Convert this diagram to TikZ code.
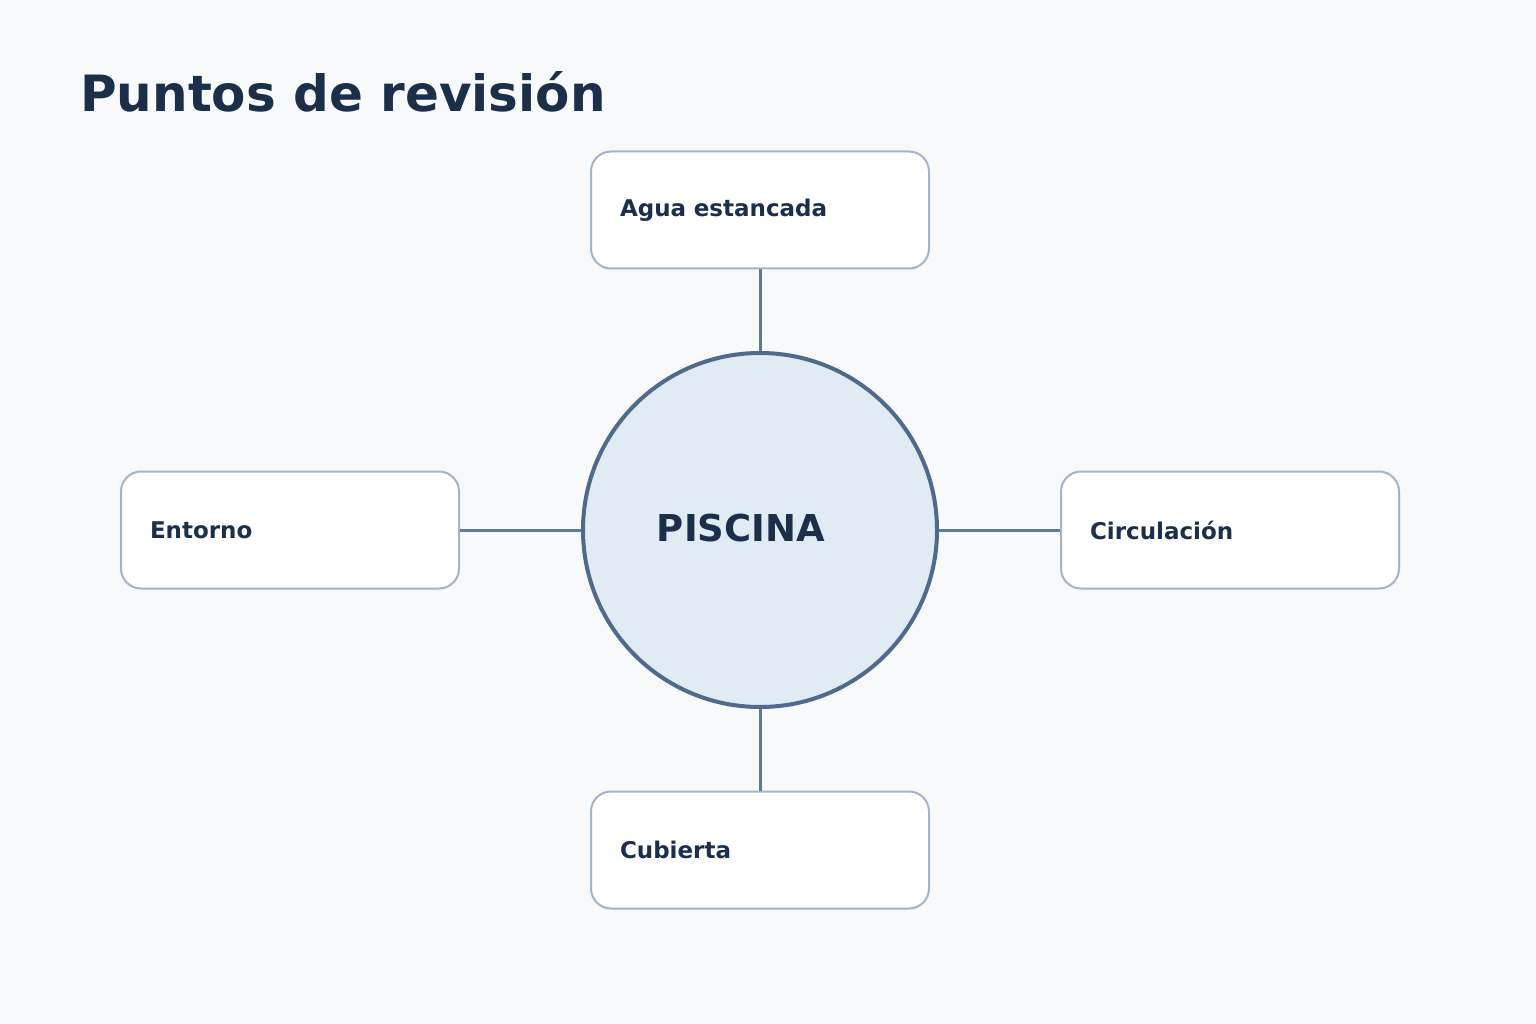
\documentclass[tikz,border=0pt]{standalone}
\usepackage{fontspec}
\setmainfont{DejaVu Sans}
\usetikzlibrary{positioning}
\definecolor{bgcol}{HTML}{F7F9FB}
\definecolor{inkcol}{HTML}{1B2E4A}
\definecolor{boxline}{HTML}{A3B5C6}
\definecolor{hubline}{HTML}{4F6A8A}
\definecolor{hubfill}{HTML}{E1EBF4}
\definecolor{linkcol}{HTML}{5E7A96}
\begin{document}
\begin{tikzpicture}[
    x=1pt, y=-1pt,
    % Define box style
    point style/.style={
        draw=boxline, % Border colour
        line width=2pt,
        fill=white,
        rectangle,
        rounded corners=20pt,
        minimum width=338pt,
        minimum height=117pt,
        text width=280pt, % Room for left aligned text
        align=left,
        text=inkcol,
        font=\bfseries\fontsize{23}{28}\selectfont
      },
    % Define link style
    link/.style={draw=linkcol, line width=3pt}
  ]
  % Background and bounding box
  \fill[bgcol] (0,0) rectangle (1536,1024);
  \useasboundingbox (0,0) rectangle (1536,1024);

  % Title
  \node[anchor=base west, inner sep=0, text=inkcol, font=\bfseries\fontsize{50}{60}\selectfont] (title) at (80,112) {Puntos de revisión};

  % Central circle
  \node[circle, draw=hubline, line width=4pt, fill=hubfill, minimum size=354pt] (hub) at (760,530) {};
  \node[text=inkcol, font=\bfseries\fontsize{37}{44}\selectfont] (hubtext) at (741,528) {PISCINA};

  % Check points
  \node[point style] (water) at (760,210) {Agua estancada};
  \node[point style] (around) at (290,530) {Entorno};
  \node[point style] (flow) at (1230,530) {Circulación};
  \node[point style] (cover) at (760,850) {Cubierta};

  % Links
  \draw[link] (hub) -- (water);
  \draw[link] (hub) -- (around);
  \draw[link] (hub) -- (flow);
  \draw[link] (hub) -- (cover);
\end{tikzpicture}
\end{document}
